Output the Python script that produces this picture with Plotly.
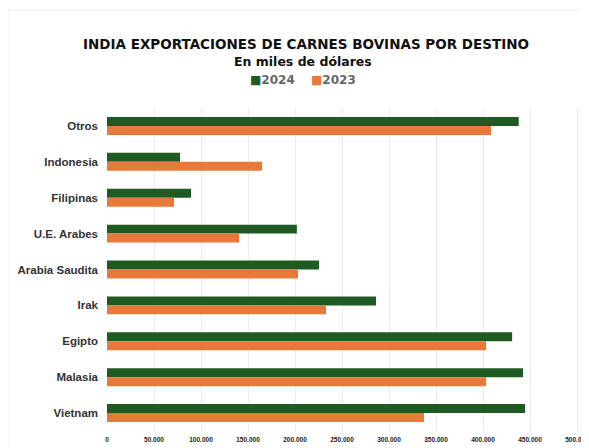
import plotly.graph_objects as go

categories = ["Otros", "Indonesia", "Filipinas", "U.E. Arabes", "Arabia Saudita",
              "Irak", "Egipto", "Malasia", "Vietnam"]
values_2024 = [438000, 77700, 89400, 202000, 225600, 286200, 431000, 442600, 444800]
values_2023 = [408500, 165000, 71300, 140500, 203200, 233000, 403300, 403300, 337300]
tick_vals = [0, 50000, 100000, 150000, 200000, 250000, 300000, 350000, 400000, 450000, 500000]
tick_text = ["0", "50.000", "100.000", "150.000", "200.000", "250.000", "300.000",
             "350.000", "400.000", "450.000", "500.000"]

GREEN = "#1E5A22"
ORANGE = "#E8793A"
FONT = "Liberation Sans, Arial, sans-serif"
TITLE_FONT = "DejaVu Sans, sans-serif"

# page body has an 8px default margin; compensate so the picture lines up
OFF = 8
W, H = 589 - OFF, 448 - OFF
L, R, T, B = 107 - OFF, 0, 108 - OFF, 17
PW, PH = W - L - R, H - T - B


def px_x(x):
    return (x - OFF - L) / PW


def px_y(y):
    return (H - B - (y - OFF)) / PH


fig = go.Figure()
fig.add_trace(go.Bar(y=categories, x=values_2024, orientation="h", name="2024",
                     marker=dict(color=GREEN, line=dict(width=0))))
fig.add_trace(go.Bar(y=categories, x=values_2023, orientation="h", name="2023",
                     marker=dict(color=ORANGE, line=dict(width=0))))

fig.update_layout(
    width=W, height=H,
    margin=dict(l=L, r=R, t=T, b=B),
    paper_bgcolor="white", plot_bgcolor="white",
    barmode="group", bargap=0.5, bargroupgap=0,
    font=dict(family=FONT, color="#333333"),
    showlegend=False,
    xaxis=dict(range=[0, 482 / 47 * 50000], tickvals=tick_vals, ticktext=tick_text,
               tickfont=dict(size=6.5, color="#222222", weight="bold"),
               showgrid=True, gridcolor="#EAEAEA", gridwidth=1, automargin=False,
               zeroline=False, showline=False, ticks="", ticklen=0,
               ticklabelstandoff=3, ticklabeloverflow="allow"),
    yaxis=dict(autorange="reversed", tickfont=dict(size=11.5, color="#333333", weight="bold"),
               showgrid=False, zeroline=False, showline=False, ticks="",
               ticklabelstandoff=8, automargin=False),
    annotations=[
        dict(text="<b>INDIA EXPORTACIONES DE CARNES BOVINAS POR DESTINO</b>",
             xref="paper", yref="paper", x=px_x(306), y=px_y(44), xanchor="center",
             yanchor="middle", showarrow=False,
             font=dict(size=13.5, color="#111111", family=TITLE_FONT)),
        dict(text="<b>En miles de dólares</b>",
             xref="paper", yref="paper", x=px_x(303), y=px_y(62), xanchor="center",
             yanchor="middle", showarrow=False,
             font=dict(size=12.5, color="#111111", family=TITLE_FONT)),
        dict(text=f"<span style='color:{GREEN}'>■</span><b>2024</b>",
             xref="paper", yref="paper", x=px_x(248), y=px_y(80), xanchor="left",
             yanchor="middle", showarrow=False,
             font=dict(size=12, color="#666666", family=TITLE_FONT)),
        dict(text=f"<span style='color:{ORANGE}'>■</span><b>2023</b>",
             xref="paper", yref="paper", x=px_x(309), y=px_y(80), xanchor="left",
             yanchor="middle", showarrow=False,
             font=dict(size=12, color="#666666", family=TITLE_FONT)),
    ],
    shapes=[dict(type="rect", xref="paper", yref="paper",
                 x0=px_x(8), x1=px_x(600), y0=px_y(10), y1=px_y(460),
                 line=dict(color="#EDEDED", width=1), fillcolor="rgba(0,0,0,0)",
                 layer="below")],
)

fig.write_html("out.html")
